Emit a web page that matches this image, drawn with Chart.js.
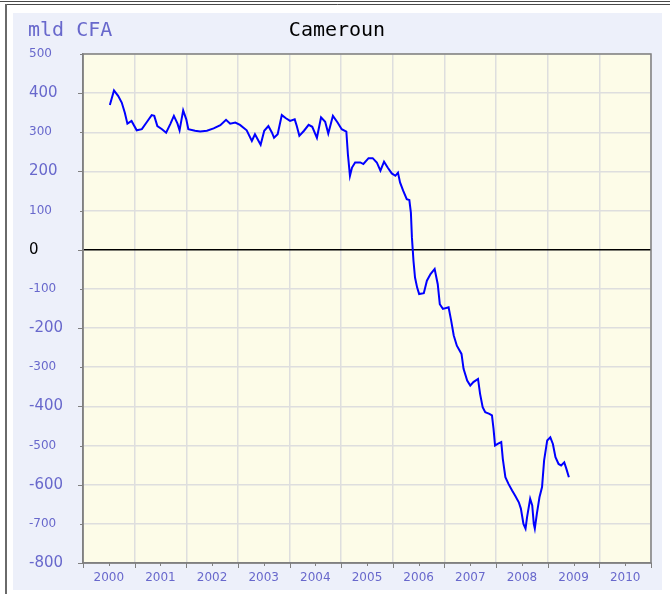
<!DOCTYPE html>
<html>
<head>
<meta charset="utf-8">
<script src="https://cdn.jsdelivr.net/npm/chart.js@4"></script>
<style>
  html, body { margin: 0; padding: 0; background: #fff; }
  #wrap { width: 670px; height: 594px; }
</style>
</head>
<body>
<div id="wrap"><canvas id="c" width="670" height="594"></canvas></div>
<script>
// Balance in billions of CFA francs (decimal year, value)
const dates = [
  2000.52, 2000.60, 2000.68, 2000.75, 2000.81, 2000.86, 2000.94,
  2001.04, 2001.14, 2001.23, 2001.33, 2001.38, 2001.44, 2001.53, 2001.61, 2001.69, 2001.76, 2001.83, 2001.87, 2001.94,
  2002.00, 2002.04, 2002.17, 2002.27, 2002.40, 2002.53, 2002.66, 2002.77, 2002.85, 2002.95,
  2003.04, 2003.17, 2003.27, 2003.33, 2003.44, 2003.51, 2003.59, 2003.66, 2003.70, 2003.77, 2003.85, 2003.93,
  2004.01, 2004.10, 2004.14, 2004.19, 2004.28, 2004.37, 2004.44, 2004.53, 2004.61, 2004.69, 2004.75, 2004.84, 2004.93,
  2005.01, 2005.10, 2005.13, 2005.17, 2005.21, 2005.27, 2005.37, 2005.43, 2005.53, 2005.61, 2005.69, 2005.76, 2005.83, 2005.90, 2005.98,
  2006.05, 2006.10, 2006.14, 2006.20, 2006.27, 2006.32, 2006.35, 2006.37, 2006.40, 2006.43, 2006.47, 2006.51, 2006.60, 2006.66, 2006.73, 2006.81, 2006.87, 2006.91, 2006.97,
  2007.08, 2007.13, 2007.18, 2007.24, 2007.33, 2007.37, 2007.44, 2007.50, 2007.56, 2007.65, 2007.69, 2007.74, 2007.79, 2007.87, 2007.92, 2007.95, 2007.98,
  2008.03, 2008.10, 2008.13, 2008.18, 2008.24, 2008.31, 2008.37, 2008.44, 2008.48, 2008.53, 2008.57, 2008.60, 2008.66, 2008.70, 2008.73, 2008.75, 2008.79, 2008.84, 2008.89, 2008.93, 2008.99,
  2009.05, 2009.10, 2009.15, 2009.21, 2009.26, 2009.32, 2009.36, 2009.41
];
const values = [
  370, 407, 393, 376, 350, 322, 329,
  305, 308, 325, 344, 342, 316, 308, 299, 321, 342, 322, 305, 356,
  333, 308, 304, 302, 304, 310, 318, 332, 322, 325,
  319, 305, 278, 295, 268, 304, 316, 299, 286, 295, 344, 336,
  329, 333, 316, 291, 304, 319, 314, 286, 338, 327, 297, 342, 325,
  308, 302, 244, 189, 210, 223, 223, 219, 234, 234, 223, 202, 225, 210, 195,
  189, 197, 172, 151, 129, 127, 95, 31, -28, -71, -96, -113, -111, -79, -62, -49, -88, -139, -151,
  -147, -181, -219, -245, -266, -304, -334, -347, -338, -330, -368, -402, -415, -419, -423, -457, -500,
  -496, -491, -534, -581, -598, -615, -628, -645, -661, -700, -712, -683, -636, -653, -700, -712, -674, -632, -606, -538, -487,
  -479, -496, -530, -547, -551, -543, -559, -581
];
const yearLabels = [2000, 2001, 2002, 2003, 2004, 2005, 2006, 2007, 2008, 2009, 2010];
const yMin = -800, yMax = 500, yStep = 100;
const unitLabel = 'mld CFA';
const chartTitle = 'Cameroun';

const LABEL_BLUE = '#6868cc';
const AXIS_GREY = '#808080';
const GRID_GREY = '#dedede';

const frame = {
  id: 'frame',
  beforeDraw(chart) {
    const ctx = chart.ctx, a = chart.chartArea;
    ctx.save();
    ctx.fillStyle = '#ffffff';
    ctx.fillRect(0, 0, chart.width, chart.height);
    // outer rules
    ctx.strokeStyle = '#4a4a4a';
    ctx.lineWidth = 1;
    ctx.beginPath();
    ctx.moveTo(0, 1.5); ctx.lineTo(chart.width, 1.5);
    ctx.moveTo(5.5, 4.5); ctx.lineTo(chart.width, 4.5);
    ctx.stroke();
    ctx.strokeStyle = '#6a6a6a';
    ctx.lineWidth = 2;
    ctx.beginPath();
    ctx.moveTo(6, 4); ctx.lineTo(6, chart.height);
    ctx.stroke();
    // light panel
    ctx.fillStyle = '#edf0fa';
    ctx.fillRect(13, 13, 649, 577);
    // plot background
    ctx.fillStyle = '#fdfce8';
    ctx.fillRect(a.left, a.top, a.right - a.left, a.bottom - a.top);
    ctx.restore();
  },
  afterDraw(chart) {
    const ctx = chart.ctx, a = chart.chartArea;
    const xs = chart.scales.x, ys = chart.scales.y;
    ctx.save();
    // plot frame
    ctx.strokeStyle = AXIS_GREY;
    ctx.lineWidth = 1.5;
    ctx.strokeRect(a.left, a.top, a.right - a.left, a.bottom - a.top);
    // tick marks
    ctx.lineWidth = 1;
    ctx.beginPath();
    for (let v = yMin; v <= yMax; v += yStep) {
      const py = Math.round(ys.getPixelForValue(v)) + 0.5;
      const len = (v % 200 === 0) ? 5 : 3;
      ctx.moveTo(a.left - len, py); ctx.lineTo(a.left, py);
    }
    yearLabels.forEach(yr => {
      let px = Math.round(xs.getPixelForValue(yr)) + 0.5;
      ctx.moveTo(px, a.bottom); ctx.lineTo(px, a.bottom + 5);
      px = Math.round(xs.getPixelForValue(yr + 0.5)) + 0.5;
      ctx.moveTo(px, a.bottom); ctx.lineTo(px, a.bottom + 3);
    });
    const pe = Math.round(xs.getPixelForValue(yearLabels[yearLabels.length - 1] + 1)) + 0.5;
    ctx.moveTo(pe, a.bottom); ctx.lineTo(pe, a.bottom + 5);
    ctx.stroke();
    // headings
    ctx.textBaseline = 'middle';
    ctx.font = '20px "DejaVu Sans Mono"';
    ctx.fillStyle = LABEL_BLUE;
    ctx.textAlign = 'left';
    ctx.fillText(unitLabel, 28, 31);
    ctx.fillStyle = '#000000';
    ctx.textAlign = 'center';
    ctx.fillText(chartTitle, 337, 31);
    ctx.restore();
  }
};

new Chart(document.getElementById('c'), {
  type: 'line',
  data: {
    datasets: [{
      data: dates.map((d, i) => ({ x: d, y: values[i] })),
      borderColor: '#0000ff',
      borderWidth: 2,
      pointRadius: 0,
      tension: 0,
      fill: false
    }]
  },
  options: {
    responsive: false,
    animation: false,
    layout: { padding: { left: 29, right: 19, top: 54, bottom: 0 } },
    plugins: { legend: { display: false }, title: { display: false }, tooltip: { enabled: false } },
    scales: {
      x: {
        type: 'linear',
        min: yearLabels[0],
        max: yearLabels[yearLabels.length - 1] + 1,
        afterBuildTicks(scale) {
          const t = [];
          yearLabels.forEach(yr => { t.push({ value: yr }); t.push({ value: yr + 0.5 }); });
          t.push({ value: yearLabels[yearLabels.length - 1] + 1 });
          scale.ticks = t;
        },
        afterFit(scale) { scale.height = 31; },
        grid: {
          drawTicks: false,
          color: c => (c.tick && Number.isInteger(c.tick.value)) ? GRID_GREY : 'rgba(0,0,0,0)',
          lineWidth: 1.5
        },
        border: { color: AXIS_GREY, width: 1.5 },
        ticks: {
          autoSkip: false,
          maxRotation: 0,
          padding: 8,
          color: LABEL_BLUE,
          font: { family: 'DejaVu Sans', size: 12 },
          callback: v => Number.isInteger(v) ? '' : String(Math.floor(v))
        }
      },
      y: {
        min: yMin,
        max: yMax,
        afterFit(scale) { scale.width = 54; },
        grid: {
          drawTicks: false,
          color: c => (c.tick && c.tick.value === 0) ? '#000000' : GRID_GREY,
          lineWidth: 1.5
        },
        border: { color: AXIS_GREY, width: 1.5 },
        ticks: {
          stepSize: yStep,
          crossAlign: 'far',
          color: c => (c.tick && c.tick.value === 0) ? '#000000' : LABEL_BLUE,
          font: c => ({ family: 'DejaVu Sans', size: (c.tick && c.tick.value % 200 === 0) ? 15 : 12 })
        }
      }
    }
  },
  plugins: [frame]
});
</script>
</body>
</html>
